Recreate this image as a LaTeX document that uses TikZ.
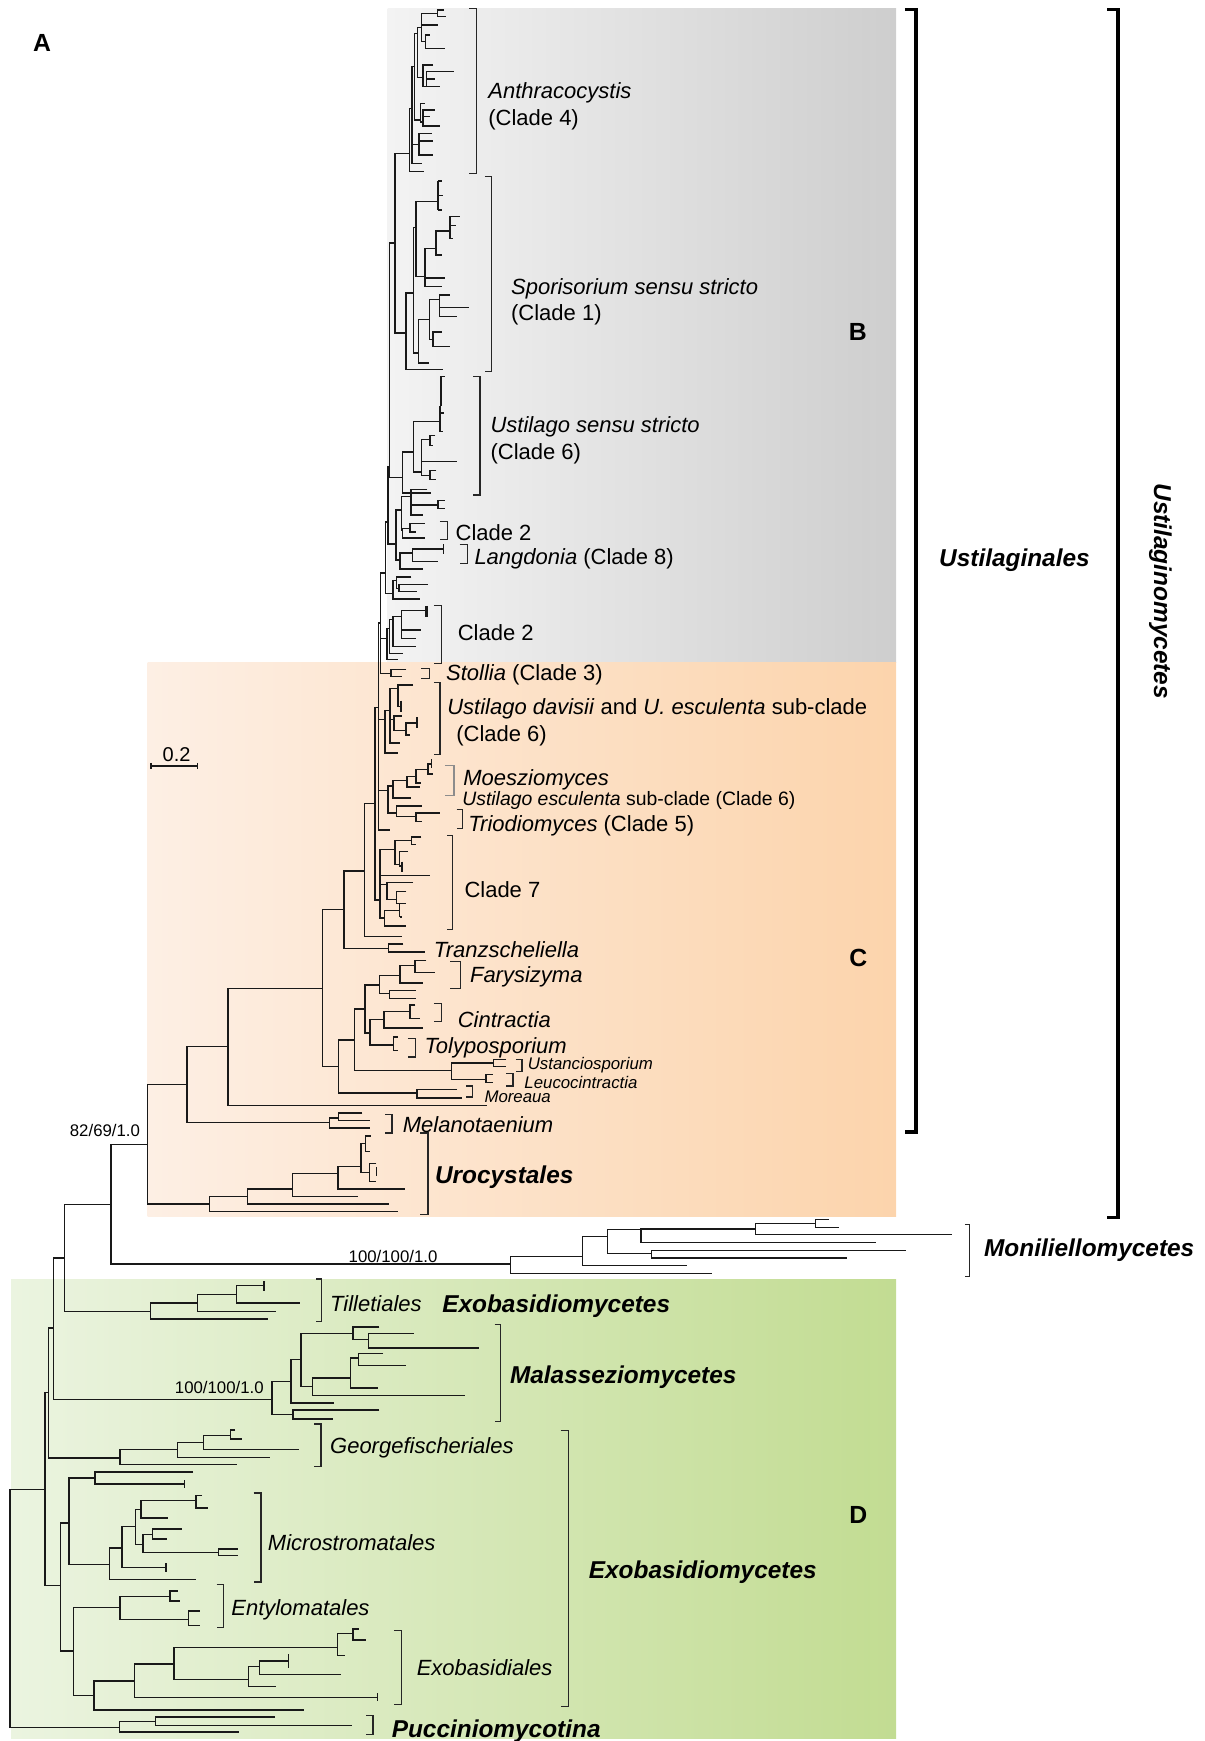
\documentclass[tikz,border=0pt]{standalone}
\usepackage{fontspec}
\setmainfont{Liberation Sans}
\usepackage{tikz}
\usetikzlibrary{positioning}

\definecolor{grayL}{RGB}{243,243,243}
\definecolor{grayR}{RGB}{206,206,206}
\definecolor{orgL}{RGB}{253,239,228}
\definecolor{orgR}{RGB}{252,212,172}
\definecolor{grnL}{RGB}{235,244,224}
\definecolor{grnR}{RGB}{194,220,146}

% one split of the tree: node x, upper child (y,x), lower child (y,x)
\newcommand{\tfork}[5]{\draw[branch] (#3,#2) -| (#1,#4) -- (#5,#4);}
\newcommand{\tleaf}[3]{\draw[branch] (#1,#2) -- (#3,#2);}
% clade bracket: x from, x to, y top, y bottom
\newcommand{\tbrack}[4]{\draw[brk] (#1,#3) -- (#2,#3) -- (#2,#4) -- (#1,#4);}

\begin{document}
\begin{tikzpicture}[x=0.5553pt,y=-0.5553pt,
  branch/.style={line width=0.68pt,black!90},
  brk/.style={line width=0.65pt,black!85},
  hbrk/.style={line width=1.7pt,black},
  txt/.style={anchor=west,inner sep=0pt,font=\fontsize{11}{13.3}\selectfont},
  lab/.style={anchor=west,inner sep=0pt,font=\fontsize{11}{13.3}\selectfont\itshape},
  bigl/.style={anchor=west,inner sep=0pt,font=\fontsize{12.2}{14}\selectfont\bfseries\itshape},
  tinyl/.style={anchor=west,inner sep=0pt,font=\fontsize{8.4}{10}\selectfont\itshape},
  supp/.style={inner sep=0pt,font=\fontsize{8.4}{10}\selectfont},
  panel/.style={inner sep=0pt,font=\fontsize{12.4}{14}\selectfont\bfseries}]

\useasboundingbox (0,0) rectangle (1085,1568);

% coloured panels
\shade[left color=grayL,right color=grayR] (349,8) rectangle (807,597);
\shade[left color=orgL,right color=orgR] (133,597) rectangle (807,1096);
\shade[left color=grnL,right color=grnR] (10,1152) rectangle (807,1566);

% backbone
\tfork{9}{1341.5}{40.5}{1556}{107.5}
\tfork{40.5}{1254}{43.5}{1428}{54.5}
\tfork{43.5}{1196}{48}{1313}{108}
\tfork{48}{1133}{58}{1260.5}{245}
\tfork{58}{1085}{100}{1181}{135.7}
\tfork{100}{1031}{133}{1138.4}{460}
\tfork{133}{977}{168.4}{1084.5}{188.5}
\tfork{168.4}{942.5}{205.4}{1011}{297}
\tfork{205.4}{890}{290.5}{995.6}{439}
\tfork{290.5}{819.4}{309.7}{960.5}{304.6}
\tfork{309.7}{784.3}{328}{854.5}{349.7}
\tfork{328}{723.9}{337.6}{843.4}{361.6}
\tfork{337.6}{637}{341}{810.4}{342.1}
\tfork{341}{561}{342.7}{747.4}{351.1}
\tleaf{341}{648}{346.6}
\tleaf{341}{712}{349.6}
\tfork{342.7}{516.2}{347}{606.3}{352}
\tleaf{342.7}{575}{348.5}
\tfork{347}{470}{349.5}{534.3}{354.1}
\tfork{349.5}{420}{351}{490}{356.6}
\tfork{351}{219}{355.7}{430}{362.6}
\tfork{355.7}{138}{368.6}{300}{365.6}

% Anthracocystis
\tfork{368.6}{97.5}{371}{154.6}{382.1}
\tfork{371}{60}{373.5}{147}{379.7}
\tleaf{371}{130}{377.5}
\tfork{377.5}{120}{388.7}{139.6}{390.2}
\tleaf{377.5}{127}{389.6}
\tfork{373.5}{30}{376}{108}{378.5}
\tfork{378.5}{93}{382.7}{110}{381}
\tfork{381}{99}{391.7}{113.5}{396.2}
\tleaf{381}{105}{387.2}
\tfork{376}{25}{379.5}{70}{381}
\tfork{379.5}{12}{394}{37.5}{383}
\tfork{394}{9}{400}{15}{402}
\tleaf{379.5}{22.5}{394.7}
\tfork{383}{31.5}{387}{43.5}{400.7}
\tfork{381}{58.5}{390}{78}{384}
\tfork{384}{64.5}{408.8}{78}{396.2}
\tleaf{384}{71}{391.7}

% Sporisorium
\tfork{365.6}{264}{372.2}{333}{399.2}
\tfork{372.2}{205}{374.6}{318}{376.7}
\tfork{374.6}{181.6}{394.7}{249}{382.7}
\draw[branch,line width=1.1pt] (394.7,163) -- (394.7,189);
\tleaf{394.7}{163}{398}
\tleaf{394.7}{176}{399}
\tleaf{394.7}{189}{398}
\tfork{382.7}{223.6}{392.6}{258}{397.7}
\tleaf{382.7}{250.5}{400.7}
\tfork{392.6}{208}{405.2}{229.6}{398}
\tfork{405.2}{195}{414.2}{215}{408}
\tleaf{405.2}{203}{411}
\tfork{376.7}{288}{386.6}{327}{386.6}
\tfork{386.6}{270}{395.6}{306}{390}
\tfork{395.6}{265.6}{405.2}{285}{411.8}
\tleaf{395.6}{277}{422.6}
\tfork{390}{299}{398}{312}{405.2}

% Ustilago sensu stricto
\tfork{362.6}{407}{372.2}{444}{387.8}
\tfork{372.2}{379.7}{396.2}{425}{379.7}
\draw[branch,line width=1.1pt] (397.5,339) -- (397.5,366);
\draw[branch] (396.2,366) -- (396.2,388.7);
\tleaf{397.5}{339}{401}
\tleaf{396.2}{372}{400}
\tleaf{396.2}{388.7}{399}
\tfork{379.7}{396}{387.2}{428}{387.2}
\tleaf{379.7}{415.7}{411.8}
\tfork{387.2}{392}{392}{401}{390}
\tfork{387.2}{424}{393}{432}{393}

% Clade 2 and Langdonia
\tfork{356.6}{459.2}{361.6}{504.2}{360.1}
\tfork{361.6}{447}{370}{478}{362.5}
\tfork{370}{441}{385}{463.7}{381.1}
\tleaf{370}{454.7}{394.6}
\tfork{394.6}{451}{400.6}{458}{400.6}
\tfork{362.5}{476}{369.2}{484.7}{382.6}
\tfork{369.2}{471.2}{382.6}{479}{375}
\tfork{360.1}{498.2}{371.5}{512.6}{381.1}
\tfork{371.5}{494.6}{399.2}{505.7}{394.6}
\draw[branch] (399.2,490) -- (399.2,499);
\tfork{354.1}{523}{357}{539.6}{378.7}
\tfork{357}{519.8}{370.6}{530}{359.5}
\tfork{359.5}{526.7}{385.6}{532.7}{375.7}

% second Clade 2 and Stollia
\tfork{348.5}{566}{351}{594}{358}
\tfork{351}{558}{354}{588.3}{362.5}
\tfork{354}{555}{361.6}{582.3}{375.1}
\tfork{361.6}{550}{384.1}{574.8}{375.1}
\tleaf{361.6}{567.3}{379.6}
\draw[branch,line width=1.1pt] (384.1,545.6) -- (384.1,556);
\tfork{352}{603}{366}{609.3}{362}

% Ustilago davisii group
\tfork{346.6}{640}{351.1}{678.3}{358.6}
\tfork{351.1}{619.8}{358.6}{669.3}{360.1}
\tleaf{351.1}{648}{354.7}
\tfork{358.6}{616.8}{372.1}{636.3}{361}
\draw[branch] (361,631) -- (361,641);
\tfork{354.7}{644.7}{362}{658}{365.5}
\tfork{365.5}{651.3}{375.7}{661.8}{369}
\draw[branch] (375.7,646) -- (375.7,656);

% Moesziomyces and Triodiomyces
\tfork{349.6}{708}{354.1}{732.3}{357.1}
\tfork{354.1}{703}{366.7}{718.8}{370.6}
\tfork{366.7}{699.3}{374.5}{708.9}{378}
\tfork{374.5}{693.3}{385.6}{705.3}{379.6}
\tfork{385.6}{688}{388.6}{697}{390}
\draw[branch] (388.6,684) -- (388.6,692);
\tfork{357.1}{726}{380}{735.3}{374.5}
\tfork{374.5}{732.3}{396.1}{739.8}{380}

% Clade 7
\tfork{342.1}{765.3}{355.6}{826.9}{346.5}
\tleaf{342.1}{788.4}{387.1}
\tleaf{342.1}{796.8}{348.7}
\tfork{355.6}{757.2}{370.6}{778.8}{360}
\tfork{370.6}{753.9}{379.6}{760.8}{375}
\tfork{360}{767}{367.6}{780}{362}
\draw[branch] (362,776) -- (362,785);
\tfork{348.7}{795}{372.1}{810}{357}
\tfork{357}{803}{366}{814}{366}
\tfork{346.5}{820}{360}{834}{365.5}
\draw[branch] (360,814) -- (360,826);
\tleaf{360}{826}{362}

% Tranzscheliella to Moreaua
\tfork{349.7}{850.3}{363.2}{857.5}{382.7}
\tfork{304.6}{936.5}{319.5}{984.5}{375.5}
\tfork{375.5}{981.5}{411.6}{989}{415.7}
\tfork{319.5}{908.8}{328.7}{964.4}{406.8}
\tfork{406.8}{957.5}{444.6}{972}{437.8}
\tfork{444.6}{954}{456}{960.5}{456}
\tfork{437.8}{968}{443.8}{975}{443.8}
\tfork{328.7}{887}{341.6}{930.4}{333.2}
\tfork{341.6}{878.8}{360.2}{895}{350.6}
\tfork{360.2}{869.8}{373.7}{885.4}{381.2}
\tfork{373.7}{865}{384}{876}{392}
\tfork{350.6}{892}{374.5}{899}{374.5}
\tfork{333.2}{918.4}{345.8}{941}{354.2}
\tfork{345.8}{911}{369.2}{925.9}{381.2}
\tfork{369.2}{905}{374}{917}{378}
\tfork{354.2}{934}{358}{946}{358}

% Melanotaenium
\tfork{297}{1007}{305}{1016}{333}
\tfork{305}{1002.5}{326.4}{1009}{333}

% Urocystales
\tfork{188.5}{1077.5}{222.7}{1091}{358.6}
\tfork{222.7}{1071}{263.7}{1084.5}{350.5}
\tfork{263.7}{1057.1}{304.3}{1077.5}{322.4}
\tfork{304.3}{1050.5}{325.2}{1071}{364.6}
\tfork{325.2}{1030}{329}{1056}{333}
\tfork{329}{1023}{334}{1037}{333}
\tfork{333}{1048}{339}{1064}{339}
\draw[branch] (339,1051) -- (339,1059);

% Moniliellomycetes
\tfork{460}{1131.5}{524.6}{1147.1}{640.8}
\tfork{524.6}{1113.5}{547.2}{1140}{618.3}
\tfork{547.2}{1107.5}{577.2}{1129.1}{586.8}
\tfork{586.8}{1126.1}{815.8}{1133}{762.4}
\tfork{577.2}{1106.9}{680.4}{1118.9}{788.5}
\tfork{680.4}{1102.1}{734.7}{1112}{857.8}
\tfork{734.7}{1098.5}{746.8}{1105.4}{755.8}

% Tilletiales
\tfork{135.7}{1173.5}{177.6}{1188}{241.5}
\tfork{177.6}{1166}{213}{1181}{249}
\tfork{213}{1157.6}{237.8}{1173.5}{270}
\tfork{237.8}{1154}{239}{1162}{239}

% Malasseziomycetes
\tfork{245}{1244}{262}{1274}{263.8}
\tfork{263.8}{1270}{341.7}{1278}{300}
\tfork{262}{1224.5}{271}{1263.6}{301}
\tfork{271}{1201}{317.8}{1248.6}{281.5}
\tfork{281.5}{1241}{315.7}{1257}{418.6}
\tfork{315.7}{1223}{323}{1250}{340}
\tfork{323}{1219}{345}{1230}{366}
\tfork{317.8}{1195}{341.7}{1206.5}{332}
\tfork{332}{1201}{372.8}{1214}{431}

% Georgefischeriales
\tfork{108}{1305.6}{160}{1319}{213}
\tfork{160}{1299}{183}{1312.5}{243}
\tfork{183}{1292.7}{207.7}{1305.6}{269}
\tfork{207.7}{1288}{212}{1296}{218}

% Microstromatales
\tfork{54.5}{1371.6}{62.3}{1487}{66}
\tfork{62.3}{1331}{85.7}{1409}{98.7}
\tfork{85.7}{1325.7}{174}{1336.5}{166}
\draw[branch] (166,1333) -- (166,1340);
\tfork{98.7}{1394}{110}{1422.6}{176.6}
\tfork{110}{1374.6}{122}{1412}{149.6}
\draw[branch] (149.6,1408) -- (149.6,1416);
\tfork{122}{1359.6}{127}{1391}{128.8}
\tfork{127}{1351.5}{176.6}{1367}{151.6}
\tfork{176.6}{1347}{182}{1358}{187}
\tfork{128.8}{1382}{137.6}{1398}{197}
\tfork{137.6}{1377}{163.6}{1386}{150}
\tfork{197}{1395}{214}{1401}{214}

% Entylomatales and Exobasidiales
\tfork{66}{1448}{108}{1527}{84.6}
\tfork{108}{1437.6}{153}{1458.6}{170}
\tfork{153}{1433}{160}{1442}{162}
\tfork{170}{1451}{180}{1464}{180}
\tfork{84.6}{1514}{121}{1540}{274}
\tfork{121}{1498.6}{156.8}{1529}{340}
\draw[branch] (340,1525) -- (340,1532);
\tfork{156.8}{1483.6}{303.8}{1512.7}{224}
\tfork{303.8}{1471}{318}{1491}{311}
\tfork{318}{1467}{323}{1477}{330}
\tfork{224}{1501}{233.7}{1518.7}{249}
\tfork{233.7}{1496}{259.6}{1508}{307.4}
\draw[branch] (259.6,1490) -- (259.6,1502);

% Pucciniomycotina
\tfork{107.5}{1550.6}{140.2}{1560}{215.5}
\tfork{140.2}{1546.3}{247.7}{1553.8}{316.8}

% clade brackets
\tbrack{422.6}{429.2}{7.5}{156}
\tbrack{436.7}{442.7}{159}{334.7}
\tbrack{426.2}{432.2}{339}{445.7}
\tbrack{396.2}{402.8}{469.7}{486.2}
\tbrack{414}{420.8}{490.7}{507.2}
\tbrack{390.7}{397.7}{545.6}{597.3}
\tbrack{379.6}{386.5}{601.8}{610.8}
\tbrack{390.7}{396.2}{614.7}{679.8}
\draw[brk,black!45] (400.7,689.7) -- (408.8,689.7) -- (408.8,716.7) -- (400.7,716.7);
\tbrack{411.2}{416.6}{729.3}{745.9}
\tbrack{402.8}{407.6}{752.7}{837.4}
\tbrack{405.6}{415}{866}{890}
\tbrack{390.7}{397.6}{903.5}{920}
\tbrack{367.4}{374.3}{935}{952}
\tbrack{464.7}{470}{954}{965}
\tbrack{456}{462}{967}{978}
\tbrack{420}{425.7}{978}{988}
\tbrack{347}{353}{1004}{1020.5}
\tbrack{378.7}{385.5}{1020.5}{1094}
\tbrack{868.9}{873.4}{1103}{1149.5}
\tbrack{284.6}{289.8}{1152}{1190}
\tbrack{445.5}{450.7}{1193}{1280}
\tbrack{283}{289}{1282.5}{1321}
\tbrack{228.5}{235}{1344.6}{1424.7}
\tbrack{195}{201.5}{1427}{1466}
\tbrack{354.7}{361.4}{1468.5}{1535}
\draw[brk,line width=0.45pt] (504.8,1288.5) -- (512,1288.5) -- (512,1537) -- (504.8,1537);
\tbrack{330}{336}{1545}{1562}
\draw[hbrk] (815,8.6) -- (825,8.6) -- (825,1019.5) -- (815,1019.5);
\draw[hbrk] (997,8.6) -- (1007,8.6) -- (1007,1096.5) -- (997,1096.5);

% scale bar
\draw[branch] (136,690) -- (178,690);
\draw[branch] (136,687) -- (136,693);
\draw[branch] (178,687) -- (178,693);
\node[supp,font=\fontsize{10}{12}\selectfont] (scale) at (159,679.5) {0.2};

% panel letters
\node[panel] (pA) at (38,39) {A};
\node[panel] (pB) at (772.6,299) {B};
\node[panel] (pC) at (773,863) {C};
\node[panel] (pD) at (773,1364) {D};

% support values
\node[supp] (s1) at (94.5,1018) {82/69/1.0};
\node[supp] (s2) at (354,1132) {100/100/1.0};
\node[supp] (s3) at (197.5,1250) {100/100/1.0};

% clade names
\node[lab,align=left] (anth) at (439.5,96) {Anthracocystis\\\textup{(Clade 4)}};
\node[lab,align=left] (spor) at (460,272) {Sporisorium sensu stricto\\\textup{(Clade 1)}};
\node[lab,align=left] (usts) at (441.5,396.5) {Ustilago sensu stricto\\\textup{(Clade 6)}};
\node[txt] (cl2a) at (410,480) {Clade 2};
\node[txt] (lang) at (427,503) {\textit{Langdonia} (Clade 8)};
\node[txt] (cl2b) at (412,570) {Clade 2};
\node[txt] (stol) at (401.5,608) {\textit{Stollia} (Clade 3)};
\node[txt,align=left] (davi) at (402.5,650.5) {\textit{Ustilago davisii} and \textit{U. esculenta} sub-clade\\\hspace{4.5pt}(Clade 6)};
\node[lab] (moes) at (417,702) {Moesziomyces};
\node[txt,font=\fontsize{9.7}{11}\selectfont] (uesc) at (416,721) {\textit{Ustilago esculenta} sub-clade (Clade 6)};
\node[txt] (trio) at (421.5,744) {\textit{Triodiomyces} (Clade 5)};
\node[txt] (cl7) at (418,801) {Clade 7};
\node[lab] (tran) at (390.5,855) {Tranzscheliella};
\node[lab] (fary) at (423,880) {Farysizyma};
\node[lab] (cint) at (412,918) {Cintractia};
\node[lab] (toly) at (382,944) {Tolyposporium};
\node[tinyl] (usta) at (475,959.5) {Ustanciosporium};
\node[tinyl] (leuc) at (472,974.5) {Leucocintractia};
\node[tinyl] (more) at (436,987.5) {Moreaua};
\node[lab] (mela) at (362.5,1013) {Melanotaenium};
\node[bigl] (uroc) at (391.5,1060) {Urocystales};
\node[bigl] (moni) at (886,1126) {Moniliellomycetes};
\node[lab] (till) at (297,1174) {Tilletiales};
\node[bigl] (exo1) at (398,1176) {Exobasidiomycetes};
\node[bigl] (mala) at (459,1240) {Malasseziomycetes};
\node[lab] (geor) at (297,1304) {Georgefischeriales};
\node[lab] (micr) at (241,1389) {Microstromatales};
\node[lab] (enty) at (208,1450) {Entylomatales};
\node[lab] (exba) at (375,1502) {Exobasidiales};
\node[bigl] (exo2) at (530,1416) {Exobasidiomycetes};
\node[bigl] (pucc) at (352.5,1559) {Pucciniomycotina};
\node[bigl] (ustl) at (845.5,504.5) {Ustilaginales};
\node[bigl,anchor=center,rotate=-90] (ustm) at (1045,532.5) {Ustilaginomycetes};

\end{tikzpicture}
\end{document}
